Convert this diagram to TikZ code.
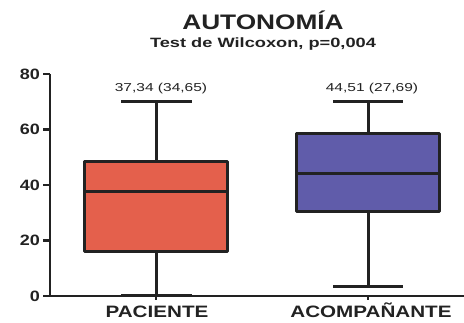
\documentclass[tikz,border=0pt]{standalone}
\usepackage{fontspec}
\setmainfont{Liberation Sans}
\newfontfamily\titlefont[FakeStretch=1.25]{Liberation Sans}
\newfontfamily\subfont[FakeStretch=1.35]{Liberation Sans}
\newfontfamily\tickfont[FakeStretch=1.2]{Liberation Sans}
\newfontfamily\catfont[FakeStretch=1.25]{Liberation Sans}
\definecolor{boxred}{RGB}{228,96,76}
\definecolor{boxblue}{RGB}{96,92,170}
\definecolor{inkgray}{RGB}{34,34,34}

\begin{document}
\begin{tikzpicture}[x=1pt,y=-1pt,
          axis/.style={draw=inkgray, line width=2.4pt},
          whisk/.style={draw=inkgray, line width=3pt},
          boxplot/.style={draw=inkgray, line width=3pt, line join=round},
          ticklabel/.style={font=\tickfont\bfseries\fontsize{15}{15}\selectfont, text=inkgray, anchor=east, inner sep=1pt},
          catlabel/.style={font=\catfont\bfseries\fontsize{16.5}{16.5}\selectfont, text=inkgray, anchor=base},
          vallabel/.style={font=\subfont\fontsize{11.5}{11.5}\selectfont, text=inkgray, anchor=base}]
  \useasboundingbox (0,0) rectangle (464,323);

  \node[font=\titlefont\bfseries\fontsize{21}{21}\selectfont, text=inkgray, anchor=base] (title) at (263,30) {AUTONOMÍA};
  \node[font=\subfont\bfseries\fontsize{13.5}{13.5}\selectfont, text=inkgray, anchor=base] (subtitle) at (263,48) {Test de Wilcoxon, p=0,004};

  \begin{scope}[shift={(0,296)}, y=2.775pt]
    % axes
    \draw[axis] (50,80) -- (50,0) -- (464,0);
    \foreach \v in {0,20,...,80} {
      \draw[axis] (43,\v) -- (50,\v);
      \node[ticklabel] (tick\v) at (41,\v) {\v};
    }
    \draw[axis] (156,0) -- (156,-1.5);
    \draw[axis] (368,0) -- (368,-1.5);

    % paciente
    \draw[whisk] (156,48.6) -- (156,70) (121,70) -- (192,70);
    \draw[whisk] (156,15.9) -- (156,0) (121,0) -- (192,0);
    \draw[boxplot, fill=boxred] (84,15.9) rectangle (227,48.6);
    \draw[whisk] (84,37.5) -- (227,37.5);
    \node[vallabel] (valpac) at (161,73.8) {37,34 (34,65)};

    % acompanante
    \draw[whisk] (368,58.4) -- (368,70) (333,70) -- (403,70);
    \draw[whisk] (368,30.6) -- (368,3.6) (333,3.6) -- (403,3.6);
    \draw[boxplot, fill=boxblue] (296,30.6) rectangle (439,58.4);
    \draw[whisk] (296,44.3) -- (439,44.3);
    \node[vallabel] (valacom) at (372,73.8) {44,51 (27,69)};
  \end{scope}

  \node[catlabel] (pac) at (157,318) {PACIENTE};
  \node[catlabel] (acom) at (371,318) {ACOMPAÑANTE};
\end{tikzpicture}
\end{document}
